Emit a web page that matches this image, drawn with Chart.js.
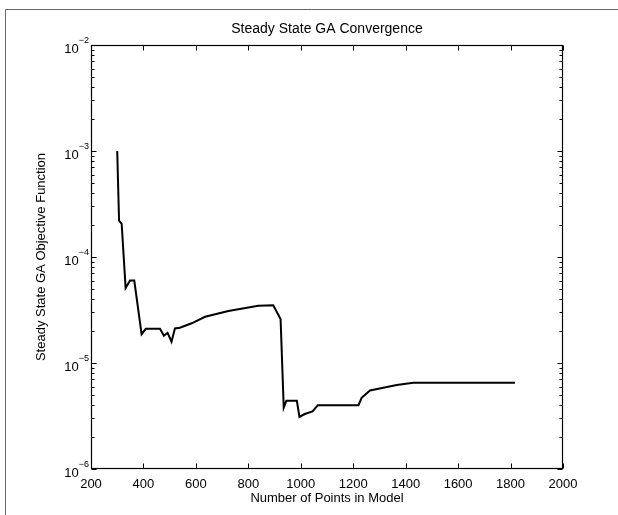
<!DOCTYPE html>
<html><head><meta charset="utf-8">
<script src="https://cdn.jsdelivr.net/npm/chart.js@4/dist/chart.umd.min.js"></script>
<style>html,body{margin:0;padding:0;background:#fff;}canvas{display:block}</style>
</head><body>
<canvas id="c" width="618" height="515"></canvas>
<script>
// ---- data ----
const pointsInModel = [300, 307, 317, 332, 349, 365, 393, 409, 463, 478, 492, 507, 520, 539, 584, 635, 724, 838, 895, 923, 935, 945, 955, 985, 995, 1015, 1045, 1065, 1220, 1232, 1264, 1366, 1429, 1817];
const objectiveValues = [1.0e-3, 2.2e-4, 2.05e-4, 5.1e-5, 6.0e-5, 6.0e-5, 1.87e-5, 2.1e-5, 2.1e-5, 1.81e-5, 1.93e-5, 1.59e-5, 2.12e-5, 2.15e-5, 2.37e-5, 2.73e-5, 3.1e-5, 3.47e-5, 3.5e-5, 2.6e-5, 3.8e-6, 4.4e-6, 4.4e-6, 4.4e-6, 3.1e-6, 3.3e-6, 3.5e-6, 4.0e-6, 4.0e-6, 4.7e-6, 5.5e-6, 6.2e-6, 6.5e-6, 6.5e-6];
const xTickValues = [200, 400, 600, 800, 1000, 1200, 1400, 1600, 1800, 2000];
const xTickLabels = ['200', '400', '600', '800', '1000', '1200', '1400', '1600', '1800', '2000'];
const yTickValues = [1e-6, 1e-5, 1e-4, 1e-3, 1e-2];
const yTickExponents = ['\u22126', '\u22125', '\u22124', '\u22123', '\u22122'];
const titleText = 'Steady State GA Convergence';
const xAxisLabel = 'Number of Points in Model';
const yAxisLabel = 'Steady State GA Objective Function';

const FONT = '"Liberation Sans", Arial, Helvetica, sans-serif';

const matlabAxes = {
  id: 'matlabAxes',
  afterDraw(chart) {
    const ctx = chart.ctx, a = chart.chartArea, xs = chart.scales.x, ys = chart.scales.y;
    ctx.save();
    // figure frame
    ctx.strokeStyle = '#666';
    ctx.lineWidth = 1;
    ctx.beginPath();
    ctx.moveTo(5.5, 515); ctx.lineTo(5.5, 9.5); ctx.lineTo(618, 9.5);
    ctx.stroke();

    ctx.strokeStyle = '#000';
    ctx.lineWidth = 1.2;
    const L = Math.round(a.left) + 0.5, R = Math.round(a.right) - 0.5,
          T = Math.round(a.top) + 0.5, B = Math.round(a.bottom) - 0.5;
    ctx.strokeRect(L, T, R - L, B - T);
    ctx.lineWidth = 1;
    ctx.beginPath();
    xTickValues.forEach(v => {
      const px = Math.round(xs.getPixelForValue(v)) + 0.5;
      ctx.moveTo(px, B); ctx.lineTo(px, B - 5);
      ctx.moveTo(px, T); ctx.lineTo(px, T + 5);
    });
    yTickValues.forEach((v, i) => {
      const py = Math.round(ys.getPixelForValue(v)) + 0.5;
      ctx.moveTo(L, py); ctx.lineTo(L + 5, py);
      ctx.moveTo(R, py); ctx.lineTo(R - 5, py);
      if (i < yTickValues.length - 1) {
        for (let k = 2; k <= 9; k++) {
          const pm = Math.round(ys.getPixelForValue(v * k)) + 0.5;
          ctx.moveTo(L, pm); ctx.lineTo(L + 3, pm);
          ctx.moveTo(R, pm); ctx.lineTo(R - 3, pm);
        }
      }
    });
    ctx.stroke();

    ctx.fillStyle = '#000';
    // x tick labels
    ctx.font = '13px ' + FONT;
    ctx.textAlign = 'center';
    ctx.textBaseline = 'alphabetic';
    xTickValues.forEach((v, i) => {
      ctx.fillText(xTickLabels[i], xs.getPixelForValue(v), a.bottom + 19);
    });
    // y tick labels 10^n
    yTickValues.forEach((v, i) => {
      const py = ys.getPixelForValue(v);
      ctx.font = '9px ' + FONT;
      ctx.textAlign = 'right';
      const supW = ctx.measureText(yTickExponents[i]).width;
      ctx.fillText(yTickExponents[i], a.left - 2, py - 2);
      ctx.font = '13px ' + FONT;
      ctx.fillText('10', a.left - 2 - supW, py + 8);
    });
    // title & labels
    const cx = (a.left + a.right) / 2;
    ctx.textAlign = 'center';
    ctx.font = '14px ' + FONT;
    ctx.fillText(titleText, cx, a.top - 12);
    ctx.font = '13px ' + FONT;
    ctx.fillText(xAxisLabel, cx, a.bottom + 33);
    ctx.save();
    ctx.translate(41, (a.top + a.bottom) / 2);
    ctx.rotate(-Math.PI / 2);
    ctx.textBaseline = 'middle';
    ctx.fillText(yAxisLabel, 0, 0);
    ctx.restore();
    ctx.restore();
  }
};

new Chart(document.getElementById('c'), {
  type: 'line',
  data: {
    datasets: [{
      data: pointsInModel.map((x, i) => ({ x: x, y: objectiveValues[i] })),
      borderColor: '#000',
      borderWidth: 2,
      pointRadius: 0,
      tension: 0,
      fill: false
    }]
  },
  options: {
    responsive: false,
    animation: false,
    events: [],
    layout: { padding: { left: 91, right: 55, top: 45, bottom: 46 } },
    plugins: { legend: { display: false }, tooltip: { enabled: false }, title: { display: false } },
    scales: {
      x: {
        type: 'linear', min: 200, max: 2000,
        grid: { display: false }, border: { display: false },
        ticks: { display: false },
        afterFit: s => { s.height = 0; }
      },
      y: {
        type: 'logarithmic', min: 1e-6, max: 1e-2,
        grid: { display: false }, border: { display: false },
        ticks: { display: false },
        afterFit: s => { s.width = 0; }
      }
    }
  },
  plugins: [matlabAxes]
});
</script>
</body></html>
